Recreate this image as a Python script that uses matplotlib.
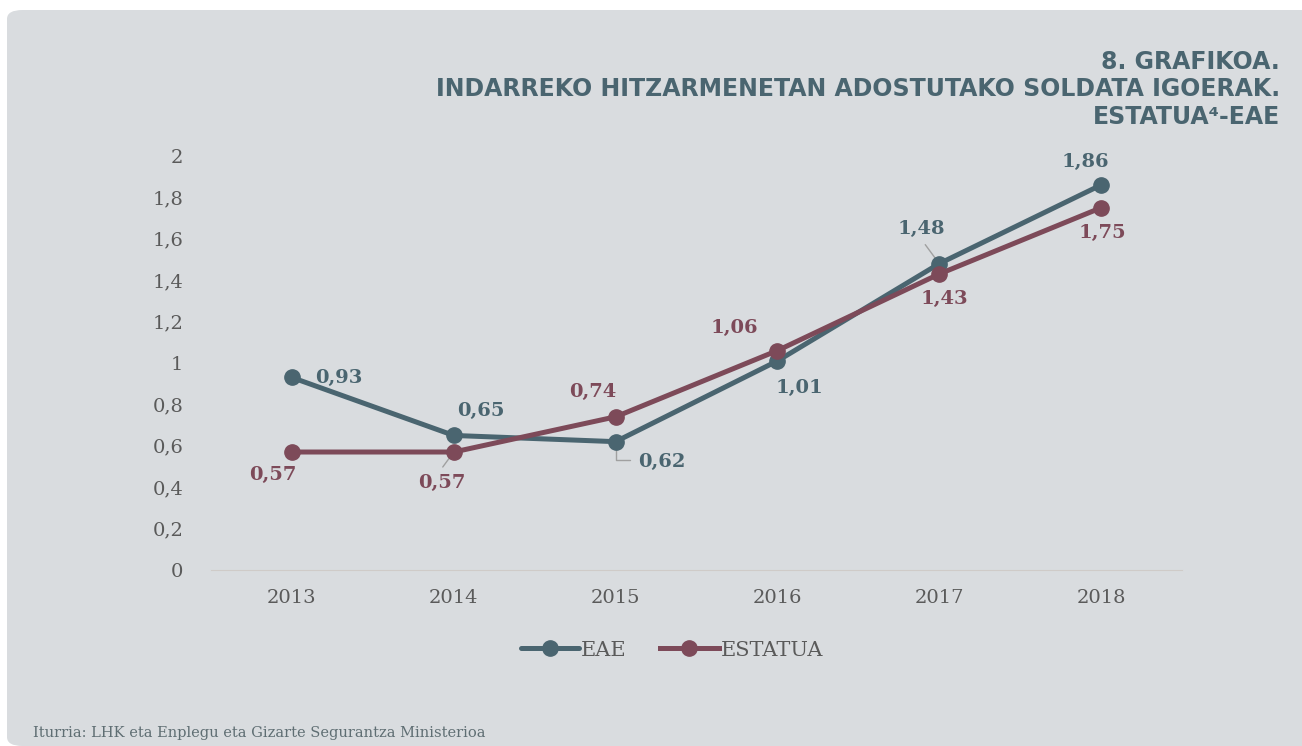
import matplotlib
matplotlib.use("Agg")
import matplotlib.pyplot as plt
from matplotlib.patches import FancyBboxPatch

years = ["2013", "2014", "2015", "2016", "2017", "2018"]
eae = [0.93, 0.65, 0.62, 1.01, 1.48, 1.86]
estatua = [0.57, 0.57, 0.74, 1.06, 1.43, 1.75]
yticks = [0, 0.2, 0.4, 0.6, 0.8, 1, 1.2, 1.4, 1.6, 1.8, 2]
ytick_labels = ["0", "0,2", "0,4", "0,6", "0,8", "1", "1,2", "1,4", "1,6", "1,8", "2"]

C_EAE = "#4a6570"
C_EST = "#7d4a59"
BG = "#d9dcdf"
TICK = "#5a5a5a"

fig = plt.figure(figsize=(13.02, 7.46), dpi=100)
fig.patch.set_facecolor("white")
panel = FancyBboxPatch((7/1302, 0), 1.1, 1 - 10/746, boxstyle="round,pad=0,rounding_size=0.012",
                       transform=fig.transFigure, facecolor=BG, edgecolor="none", zorder=-10)
fig.patches.append(panel)

ax = fig.add_axes([211/1302, (746-570)/746, 971/1302, 414/746])
ax.set_zorder(5)
ax.set_facecolor("none")
x = list(range(len(years)))
ax.plot(x, eae, color=C_EAE, lw=3.6, marker="o", ms=11, solid_capstyle="round", zorder=3, label="EAE")
ax.plot(x, estatua, color=C_EST, lw=3.6, marker="o", ms=11, zorder=3, label="ESTATUA")
ax.set_xlim(-0.5, 5.5)
ax.set_ylim(0, 2)
ax.set_xticks(x)
ax.set_xticklabels(years)
ax.set_yticks(yticks)
ax.set_yticklabels(ytick_labels)
for s in ["top", "right", "left"]:
    ax.spines[s].set_visible(False)
ax.spines["bottom"].set_color("#cfcbc8")
ax.spines["bottom"].set_linewidth(0.8)
ax.tick_params(axis="both", length=0, labelsize=14, labelcolor=TICK)
ax.tick_params(axis="y", pad=20)
ax.tick_params(axis="x", pad=14)
for t in ax.get_xticklabels() + ax.get_yticklabels():
    t.set_family("DejaVu Serif")

def px(v):
    return v * 0.72

eae_off = [(47, 0), (27, -24), (46, 20), (22, 27), (-18, -35), (-16, -23)]
est_off = [(-19, 23), (-12, 31), (-23, -25), (-43, -23), (5, 25), (1, 25)]

def fmt(v):
    return f"{v:.2f}".replace(".", ",")

for i, (v, (dx, dy)) in enumerate(zip(eae, eae_off)):
    ax.annotate(fmt(v), (i, v), xytext=(px(dx), px(-dy)), textcoords="offset points",
                ha="center", va="center", fontsize=14, fontweight="bold", color=C_EAE,
                family="DejaVu Serif", zorder=4)
for i, (v, (dx, dy)) in enumerate(zip(estatua, est_off)):
    ax.annotate(fmt(v), (i, v), xytext=(px(dx), px(-dy)), textcoords="offset points",
                ha="center", va="center", fontsize=14, fontweight="bold", color=C_EST,
                family="DejaVu Serif", zorder=4)

# leader lines
ax.annotate("", (2, eae[2]), xytext=(px(14), px(-18)), textcoords="offset points",
            arrowprops=dict(arrowstyle="-", color="#a0a0a0", lw=1,
                            connectionstyle="angle,angleA=0,angleB=90,rad=0", shrinkA=0, shrinkB=5), zorder=2)
ax.annotate("", (4, eae[4]), xytext=(px(-14), px(19)), textcoords="offset points",
            arrowprops=dict(arrowstyle="-", color="#a0a0a0", lw=1, shrinkA=0, shrinkB=5), zorder=2)
ax.annotate("", (1, estatua[1]), xytext=(px(-11), px(-15)), textcoords="offset points",
            arrowprops=dict(arrowstyle="-", color="#a0a0a0", lw=1, shrinkA=0, shrinkB=5), zorder=2)

leg = fig.legend(loc="center", bbox_to_anchor=(672/1302, 1 - 650/746), ncol=2, frameon=False,
                 handlelength=2.8, columnspacing=1.6, handletextpad=0.1,
                 prop={"family": "DejaVu Serif", "size": 15})
for t in leg.get_texts():
    t.set_color(TICK)

title_lines = ["8. GRAFIKOA.", "INDARREKO HITZARMENETAN ADOSTUTAKO SOLDATA IGOERAK.", "ESTATUA\u2074-EAE"]
ys = [62, 89, 117]
for line, yy in zip(title_lines, ys):
    fig.text(1280/1302, 1 - yy/746, line, ha="right", va="center", fontsize=17,
             fontweight="bold", color=C_EAE, family="DejaVu Sans")

fig.text(33/1302, 1 - 733/746, "Iturria: LHK eta Enplegu eta Gizarte Segurantza Ministerioa",
         ha="left", va="center", fontsize=10.5, color="#5f6e73", family="DejaVu Serif")

fig.savefig("out.png", dpi=100, facecolor=fig.get_facecolor())
